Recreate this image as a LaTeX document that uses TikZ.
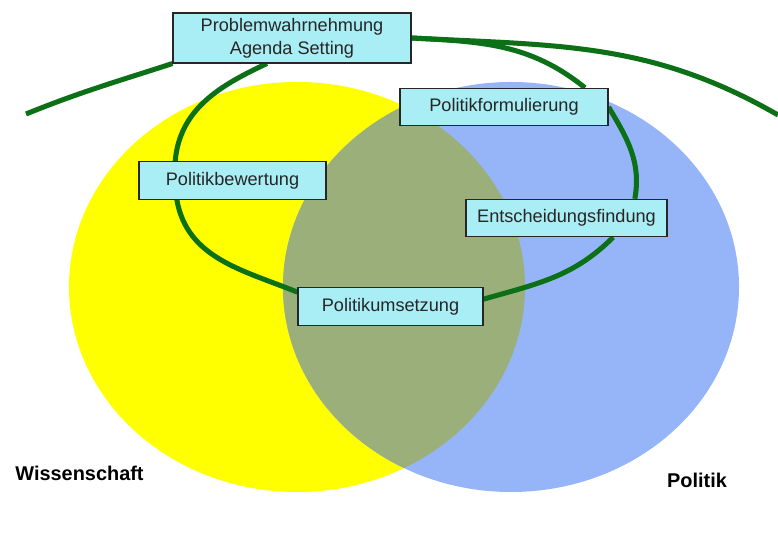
\documentclass[tikz,border=0pt]{standalone}
\usepackage{fontspec}
\setmainfont{Liberation Sans}
\usepackage{tikz}

\definecolor{sciyellow}{HTML}{FFFF00}
\definecolor{polblue}{HTML}{96B4F8}
\definecolor{overlapgreen}{HTML}{9BAF7B}
\definecolor{boxcyan}{HTML}{A9EEF4}
\definecolor{cyclegreen}{HTML}{0B7016}

\pgfdeclarelayer{back}
\pgfdeclarelayer{lines}
\pgfsetlayers{back,lines,main}

\begin{document}
\begin{tikzpicture}[x=0.03cm, y=0.03cm,
    phase/.style={draw=black!85, line width=0.9pt, fill=boxcyan, minimum height=1.12cm,
        inner sep=0pt, align=center, text=black!85, font=\fontsize{15.5}{19.5}\selectfont},
    loopline/.style={cyclegreen, line width=4.3pt},
    field/.style={inner sep=0pt, font=\fontsize{17}{20}\selectfont\bfseries}]
    \useasboundingbox (0,0) rectangle (778,534);

    % Phases of the cycle
    \node[phase, minimum width=7.14cm, minimum height=1.5cm] (prob) at (292,496) {Problemwahrnehmung\\Agenda Setting};
    \node[phase, minimum width=6.24cm] (form) at (504,427) {Politikformulierung};
    \node[phase, minimum width=5.61cm] (bew) at (232.5,353.5) {Politikbewertung};
    \node[phase, minimum width=6.03cm] (ents) at (566.5,316) {Entscheidungsfindung};
    \node[phase, minimum width=5.55cm] (ums) at (390.5,227.5) {Politikumsetzung};

    % Field names
    \node[field] (wiss) at (79.5,60.5) {Wissenschaft};
    \node[field] (pol) at (697,53.5) {Politik};

    % The two overlapping fields
    \begin{pgfonlayer}{back}
        \fill[sciyellow] (297,247) ellipse [x radius=6.84cm, y radius=6.15cm];
        \fill[polblue] (511,247) ellipse [x radius=6.84cm, y radius=6.15cm];
        \begin{scope}
            \clip (297,247) ellipse [x radius=6.84cm, y radius=6.15cm];
            \fill[overlapgreen] (511,247) ellipse [x radius=6.84cm, y radius=6.15cm];
        \end{scope}
    \end{pgfonlayer}

    \begin{pgfonlayer}{lines}
        % Long arc over everything
        \coordinate (wl) at (26,420);
        \coordinate (wr) at (778,419);
        \draw[loopline] (wl) to[out=22, in=198] (prob.south west);
        \draw[loopline] (prob.east) to[out=-3, in=150] (wr);

        % Cycle through the phases
        \draw[loopline] ([xshift=-0.75cm]prob.south) to[out=205, in=85] ([xshift=-1.72cm]bew.north);
        \draw[loopline] ([xshift=-1.67cm]bew.south) to[out=280, in=158] ([yshift=0.43cm]ums.west);
        \draw[loopline] ([yshift=0.22cm]ums.east) to[out=16, in=225] ([xshift=1.4cm]ents.south);
        \draw[loopline] ([xshift=2.05cm]ents.north) to[out=80, in=-59] (form.east);
        \draw[loopline] ([xshift=2.43cm]form.north) to[out=141, in=-3] (prob.east);
    \end{pgfonlayer}
\end{tikzpicture}
\end{document}
